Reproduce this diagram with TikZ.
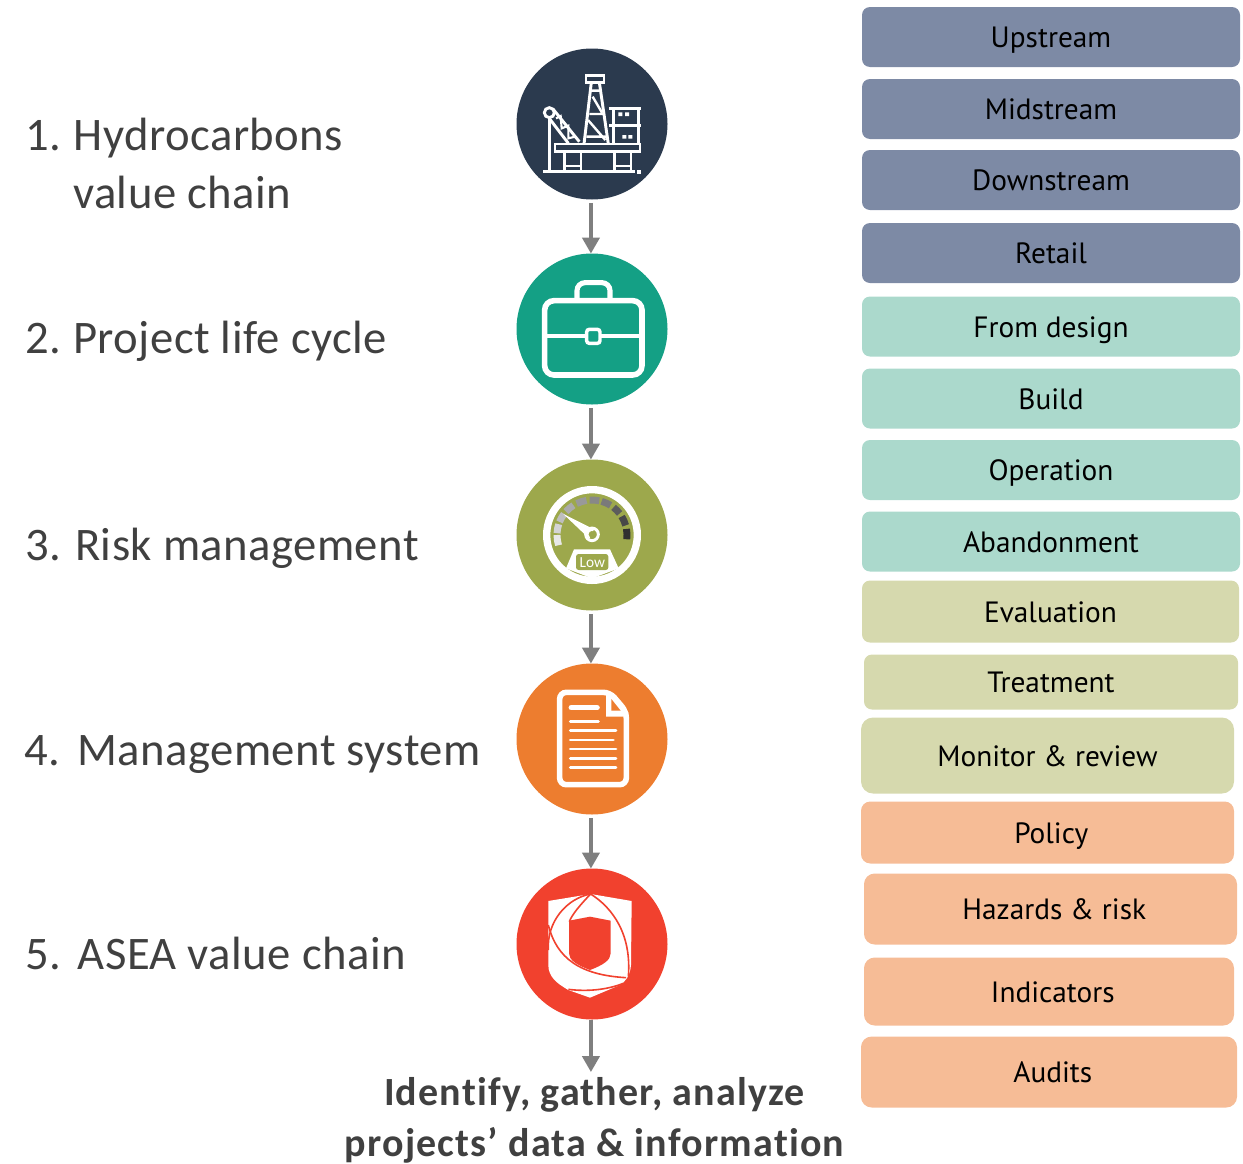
\documentclass[tikz,border=0pt]{standalone}
\usepackage{fontspec}
\setmainfont[Ligatures=NoCommon]{Carlito}
\newfontfamily\lblfont[Ligatures=NoCommon,LetterSpace=1]{Carlito}
\newfontfamily\boldfont[Ligatures=NoCommon,LetterSpace=3]{Carlito Bold}
\newfontfamily\boxfont{PT Sans}
\usetikzlibrary{arrows.meta,shapes.geometric}
\definecolor{navy}{HTML}{2B3A4E}
\definecolor{teal1}{HTML}{14A085}
\definecolor{olive1}{HTML}{9DA84C}
\definecolor{orange1}{HTML}{ED7D2F}
\definecolor{red1}{HTML}{F1412E}
\definecolor{blueb}{HTML}{7D8AA5}
\definecolor{tealb}{HTML}{ABD9CC}
\definecolor{oliveb}{HTML}{D6D9AE}
\definecolor{orangeb}{HTML}{F6BC96}
\definecolor{txt}{HTML}{404040}
\definecolor{arr}{HTML}{7F7F7F}
\tikzset{
 x=0.75pt,y=-0.75pt,
 circ/.style={circle,minimum size=113.25pt,inner sep=0pt,outer sep=0pt,fill=#1},
 bx/.style n args={3}{rectangle,rounded corners=6pt,minimum width=#1*0.75pt,minimum height=#2*0.75pt,inner sep=0pt,outer sep=0pt,fill=#3,text=black,text height=16.2pt,text depth=0.2pt,font=\boxfont\fontsize{22}{25}\selectfont},
 lbl/.style={anchor=base west,inner sep=0pt,text=txt,font=\lblfont\fontsize{35}{42}\selectfont},
 bold/.style={anchor=base,inner sep=0pt,text=txt,font=\boldfont\fontsize{30}{36}\selectfont},
 conn/.style={draw=arr,line width=2.5pt,-{Triangle[length=12pt,width=13pt]}},
 icon/.style={x=0.25pt,y=-0.25pt,white,line join=miter},
}
\newcommand{\ts}{\hspace*{5.7pt}}
\begin{document}
\begin{tikzpicture}
\useasboundingbox (0,0) rectangle (1243,1164);
% circles
\node[circ=navy] (c1) at (592,124) {};
\node[circ=teal1] (c2) at (592,329) {};
\node[circ=olive1] (c3) at (592,535) {};
\node[circ=orange1] (c4) at (592,739) {};
\node[circ=red1] (c5) at (592,944) {};
\coordinate (end) at (592,1072);
% connectors
\draw[conn,shorten <=2.5pt] ([xshift=-0.8pt]c1.south) -- ([xshift=-0.8pt]c2.north);
\draw[conn,shorten <=2.5pt] ([xshift=-0.8pt]c2.south) -- ([xshift=-0.8pt]c3.north);
\draw[conn,shorten <=2.5pt] ([xshift=-0.8pt]c3.south) -- ([xshift=-0.8pt]c4.north);
\draw[conn,shorten <=2.5pt] ([xshift=-0.8pt]c4.south) -- ([xshift=-0.8pt]c5.north);
\draw[conn,shorten <=0.5pt] ([xshift=-0.8pt]c5.south) -- ([xshift=-0.8pt]end);
% labels
\node[lbl] (l1) at (25,150) {1.\hspace{-1.5pt} Hydrocarbons};
\node[lbl] (l1b) at (73,208) {value chain};
\node[lbl] (l2) at (25,353) {2.\hspace{-2pt} Project life cycle};
\node[lbl] (l3) at (25,560) {3.\hspace{-0.5pt} Risk management};
\node[lbl] (l4) at (24,765) {4.\hspace{2pt} Management system};
\node[lbl] (l5) at (25,969) {5.\hspace{1.5pt} ASEA value chain};
\node[bold] (b1) at (594.5,1105) {Identify, gather, analyze};
\node[bold] (b2) at (594.5,1156) {projects’ data \& information};
% boxes
\node[bx={378}{60}{blueb}] (r1) at (1051,37) {Upstream};
\node[bx={378}{60}{blueb}] (r2) at (1051,109) {Midstream};
\node[bx={378}{60}{blueb}] (r3) at (1051,180) {Downstream};
\node[bx={378}{60}{blueb}] (r4) at (1051,253) {Retail};
\node[bx={378}{60}{tealb}] (r5) at (1051,326.5) {From design};
\node[bx={378}{60}{tealb}] (r6) at (1051,398.5) {Build};
\node[bx={378}{60}{tealb}] (r7) at (1051,470) {Operation};
\node[bx={378}{60}{tealb}] (r8) at (1051,541.5) {Abandonment};
\node[bx={377}{62}{oliveb}] (r9) at (1050.5,611.5) {Evaluation};
\node[bx={374}{55}{oliveb}] (r10) at (1051,682) {Treatment};
\node[bx={373}{76}{oliveb},rounded corners=9pt] (r11) at (1047.5,755.5) {Monitor \& review};
\node[bx={373}{62}{orangeb},rounded corners=7pt] (r12) at (1047.5,832.5) {\ts Policy};
\node[bx={373}{71}{orangeb},rounded corners=8pt] (r13) at (1050.5,909) {\ts Hazards \& risk};
\node[bx={370}{68}{orangeb},rounded corners=8pt] (r14) at (1049,991.5) {\ts Indicators};
\node[bx={376}{71}{orangeb},rounded corners=8pt] (r15) at (1049,1072) {\ts Audits};
% icon 1
\begin{scope}[shift={(500,40)},icon]
 \draw[line width=2.2pt] (130,395) -- (405,395);
 \fill (411,390) rectangle (423,401);
 \draw[line width=2.2pt] (165,312) rectangle (420,335);
 \foreach \a in {193,243,343,393} \draw[line width=2.2pt] (\a,335) -- (\a,395);
 \draw[line width=1.8pt] (193,378) -- (243,378) (343,378) -- (393,378);
 \draw[line width=2.2pt] (258,107) rectangle (312,127);
 \draw[line width=2.2pt] (252,312) -- (274,127) (325,312) -- (298,127);
 \draw[line width=1.8pt] (272,152) -- (302,152) (278,170) -- (306,218) (264,240) -- (316,300) (268,222) -- (311,222) (259,290) -- (318,290);
 \draw[line width=2.2pt] (328,205) -- (423,205) (328,257) -- (423,257) (340,205) -- (340,312) (415,205) -- (415,312);
 \fill (355,217) rectangle (367,228) (375,217) rectangle (387,228) (367,285) rectangle (379,296) (385,285) rectangle (397,296);
 \draw[line width=2.2pt] (148,218) circle (15);
 \draw[line width=2.2pt] (148,233) -- (148,395);
 \draw[line width=2.2pt] (159,207) -- (238,305) (150,238) -- (205,310);
 \draw[line width=1.6pt] (168,235) -- (182,228) -- (185,265) -- (205,257) -- (205,295) -- (225,290);
\end{scope}
% icon 2
\begin{scope}[shift={(500,250)},icon]
 \draw[line width=4.2pt,rounded corners=7pt] (134,152) rectangle (426,375);
 \draw[line width=3.8pt,rounded corners=6pt] (231,146) -- (231,98) -- (330,98) -- (330,146);
 \draw[line width=2.6pt] (140,258) -- (260,258) (300,258) -- (420,258);
 \draw[line width=2.6pt,rounded corners=2pt] (260,238) rectangle (300,280);
\end{scope}
% icon 3 (the y axis points down here, so the angles are negated)
\begin{scope}[shift={(500,250)},icon]
 \draw[line width=5.5pt] (276,855) circle (136);
 \foreach \st/\en/\col in {
  -197/-180/E8E8E8,-177/-162/D4D4D4,-158/-143/BEBEBE,-138/-122/ABABAB,
  -116/-99/999999,-94/-78/888888,-74/-58/7A7A7A,
  -52/-38/5C5C5C,-32/-16/484848,-10/7/303030}{
  \definecolor{tk}{HTML}{\col}
  \draw[draw=tk,line width=5.2pt] (276,855) ++(\st:105) arc[start angle=\st,end angle=\en,radius=105];
 }
 \fill (190,792) -- (282,838) -- (268,866) -- cycle;
 \draw[line width=2.2pt] (276,853) circle (19);
 \fill[olive1] (276,853) circle (10);
 \fill (198,955) -- (222,898) -- (330,898) -- (356,955) -- (276,985) -- cycle;
 \fill[olive1,rounded corners=2pt] (228,912) rectangle (325,960);
 \node[text=white,inner sep=0pt,font=\fontsize{11.5}{14}\selectfont] (lowlbl) at (277,938) {Low};
\end{scope}
% icon 4
\begin{scope}[shift={(500,655)},icon]
 \draw[line width=4.2pt,rounded corners=5pt] (179,112) -- (330,112) -- (379,170) -- (379,389) -- (179,389) -- cycle;
 \fill (318,112) -- (332,112) -- (385,172) -- (385,185) -- (318,185) -- cycle;
 \fill[orange1] (334,132) -- (362,167) -- (334,167) -- cycle;
 \draw[line cap=round,line width=4.2pt] (214,158) -- (291,158);
 \draw[line cap=round,line width=2.2pt] (211,199) -- (295,199) (211,227) -- (348,227) (211,255) -- (340,255) (211,282) -- (348,282) (211,310) -- (348,310) (211,338) -- (348,338);
\end{scope}
% icon 5
\begin{scope}[shift={(500,655)},icon]
 \fill (145,738) -- (272,717) -- (395,738) -- (393,930) .. controls (390,965) and (375,980) .. (360,990) -- (270,1028) -- (205,1005) .. controls (170,985) and (145,965) .. (145,930) -- cycle;
 \fill[red1] (207,797) -- (270,785) -- (332,797) -- (332,895) .. controls (332,915) and (310,930) .. (270,945) .. controls (230,930) and (207,915) .. (207,895) -- cycle;
 \draw[red1,line width=1.2pt] (272,717) .. controls (340,760) and (395,840) .. (385,965);
 \draw[red1,line width=1.2pt] (272,717) .. controls (240,750) and (215,780) .. (208,800);
 \draw[red1,line width=1.2pt] (272,717) .. controls (200,730) and (140,800) .. (145,885);
 \draw[red1,line width=1.2pt] (145,810) .. controls (170,910) and (240,960) .. (378,968);
 \draw[red1,line width=1.2pt] (205,1003) .. controls (260,1010) and (320,1005) .. (370,985);
\end{scope}
\end{tikzpicture}
\end{document}
